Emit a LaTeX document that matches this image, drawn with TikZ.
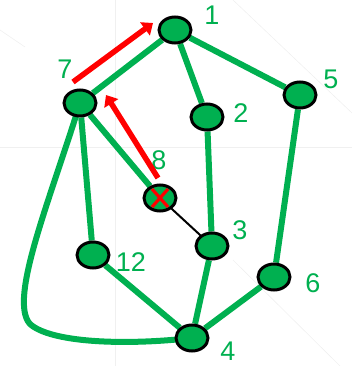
\documentclass[tikz,border=0pt]{standalone}
\usepackage{fontspec}
\setmainfont{Liberation Sans}
\usetikzlibrary{arrows.meta,shapes.geometric,backgrounds,calc}
\definecolor{gg}{HTML}{00B050}
\begin{document}
\begin{tikzpicture}[x=1pt,y=-1pt,
  vtx/.style={ellipse,draw=black,line width=3pt,fill=gg,minimum width=32pt,minimum height=26pt,inner sep=0pt},
  lbl/.style={text=gg,font=\fontsize{27}{29}\selectfont,inner sep=0pt},
  edge/.style={draw=gg,line width=6pt},
  thinedge/.style={draw=black,line width=2pt},
  redarrow/.style={draw=red,line width=5.5pt,-{Triangle[length=10pt,width=16pt]}},
  cross/.style={draw=red,line width=3.2pt},
  faint/.style={draw=gray!12,line width=0.6pt}]
\useasboundingbox (0,0) rectangle (352,366);
% nodes
\node[vtx] (n1) at (175,30) {};
\node[vtx] (n7) at (80,103) {};
\node[vtx] (n2) at (207,117) {};
\node[vtx] (n5) at (300,95) {};
\node[vtx] (n8) at (160,198) {};
\node[vtx] (n3) at (212,246) {};
\node[vtx] (n12) at (93,255) {};
\node[vtx] (n6) at (274,277) {};
\node[vtx] (n4) at (192,338) {};
% labels
\node[lbl] (l1) at (212,15) {1};
\node[lbl] (l7) at (65,69) {7};
\node[lbl] (l2) at (241,113) {2};
\node[lbl] (l5) at (331,79) {5};
\node[lbl] (l8) at (159,160) {8};
\node[lbl] (l3) at (240,230) {3};
\node[lbl] (l12) at (131,262) {12};
\node[lbl] (l6) at (313,283) {6};
\node[lbl] (l4) at (228,351) {4};
\begin{scope}[on background layer]
% faint background lines
\draw[faint] (0,147) -- (352,147);
\draw[faint] (115,0) -- (115,366);
\draw[faint] (233,0) -- (352,113);
\draw[faint] (233,260) -- (340,366);
\draw[faint] (0,30) -- (25,47);
% edges
\draw[edge] (n1) -- (n7);
\draw[edge] (n1) -- (n2);
\draw[edge] (n1) -- (n5);
\draw[edge] (n2) -- (n3);
\draw[edge] (n5) -- (n6);
\draw[edge] (n7) -- (n12);
\draw[edge] (n7) -- (n8);
\draw[edge] (n3) -- (n4);
\draw[edge] (n12) -- (n4);
\draw[edge] (n6) -- (n4);
\draw[edge] (n7.center) .. controls (50,200) and (8,300) .. (30,324) .. controls (50,342) and (120,346) .. (n4.center);
\draw[thinedge] (n8.center) -- (n3.center);
\end{scope}
% red marks
\coordinate (a1s) at (73,82);
\coordinate (a1e) at (153,23);
\coordinate (a2s) at (158,178);
\coordinate (a2e) at (106,95);
\draw[redarrow] (a1s) -- (a1e);
\draw[redarrow] (a2s) -- (a2e);
\draw[cross] ($(n8.center)+(-8,-9)$) -- ($(n8.center)+(8,9)$);
\draw[cross] ($(n8.center)+(-8,9)$) -- ($(n8.center)+(8,-9)$);
\end{tikzpicture}
\end{document}
